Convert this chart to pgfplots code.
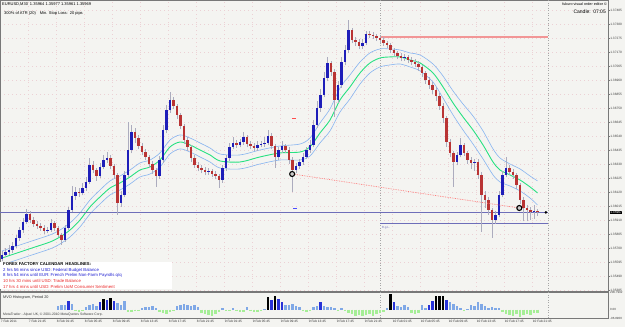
\documentclass[border=0pt]{standalone}
\usepackage{fontspec}
\setmainfont{Liberation Sans}
\usepackage{pgfplots}
\usepackage{pgfplotstable}
\pgfplotsset{compat=1.18}

\definecolor{bg}{RGB}{244,244,241}
\definecolor{upc}{RGB}{30,30,185}
\definecolor{dnc}{RGB}{185,52,52}
\definecolor{wick}{RGB}{172,172,190}
\definecolor{midc}{RGB}{40,225,130}
\definecolor{bandc}{RGB}{135,180,240}
\definecolor{hlblue}{RGB}{110,110,185}
\definecolor{hlred}{RGB}{242,150,150}
\definecolor{hlight}{RGB}{128,168,230}
\definecolor{hdark}{RGB}{40,50,215}
\definecolor{hgreen}{RGB}{165,238,150}
\definecolor{gridc}{RGB}{236,208,212}
\definecolor{axc}{RGB}{120,120,120}
\definecolor{ffblue}{RGB}{30,30,210}
\definecolor{ffred}{RGB}{235,40,40}

\pgfplotstableread{
i o h l c
0 1.35620 1.35680 1.35600 1.35648
1 1.35648 1.35700 1.35630 1.35670
2 1.35670 1.35720 1.35650 1.35685
3 1.35685 1.35745 1.35665 1.35715
4 1.35715 1.35800 1.35700 1.35775
5 1.35775 1.35860 1.35755 1.35835
6 1.35835 1.35925 1.35815 1.35895
7 1.35895 1.35990 1.35880 1.35955
8 1.35955 1.35975 1.35890 1.35910
9 1.35910 1.35930 1.35860 1.35880
10 1.35880 1.35900 1.35845 1.35865
11 1.35865 1.35885 1.35830 1.35850
12 1.35850 1.35870 1.35805 1.35828
13 1.35828 1.35860 1.35810 1.35835
14 1.35835 1.35915 1.35820 1.35888
15 1.35888 1.35900 1.35830 1.35850
16 1.35850 1.35865 1.35780 1.35798
17 1.35798 1.35815 1.35725 1.35760
18 1.35760 1.35870 1.35745 1.35850
19 1.35850 1.36010 1.35835 1.35985
20 1.35985 1.36165 1.35970 1.36090
21 1.36090 1.36160 1.36060 1.36120
22 1.36120 1.36150 1.36085 1.36113
23 1.36113 1.36185 1.36095 1.36150
24 1.36150 1.36230 1.36130 1.36195
25 1.36195 1.36375 1.36180 1.36323
26 1.36323 1.36350 1.36260 1.36285
27 1.36285 1.36300 1.36205 1.36240
28 1.36240 1.36340 1.36225 1.36308
29 1.36308 1.36400 1.36290 1.36360
30 1.36360 1.36420 1.36335 1.36375
31 1.36375 1.36395 1.36290 1.36315
32 1.36315 1.36330 1.36220 1.36248
33 1.36248 1.36265 1.35948 1.36038
34 1.36038 1.36130 1.36010 1.36098
35 1.36098 1.36280 1.36080 1.36248
36 1.36248 1.36645 1.36230 1.36435
37 1.36435 1.36620 1.36410 1.36570
38 1.36570 1.36600 1.36490 1.36525
39 1.36525 1.36545 1.36440 1.36465
40 1.36465 1.36490 1.36395 1.36420
41 1.36420 1.36440 1.36360 1.36383
42 1.36383 1.36400 1.36300 1.36330
43 1.36330 1.36350 1.36255 1.36285
44 1.36285 1.36300 1.36158 1.36240
45 1.36240 1.36390 1.36220 1.36360
46 1.36360 1.36620 1.36340 1.36585
47 1.36585 1.36770 1.36560 1.36735
48 1.36735 1.36870 1.36715 1.36810
49 1.36810 1.36835 1.36740 1.36765
50 1.36765 1.36780 1.36670 1.36698
51 1.36698 1.36715 1.36590 1.36615
52 1.36615 1.36630 1.36480 1.36510
53 1.36510 1.36530 1.36430 1.36458
54 1.36458 1.36475 1.36345 1.36375
55 1.36375 1.36400 1.36300 1.36323
56 1.36323 1.36345 1.36275 1.36300
57 1.36300 1.36320 1.36260 1.36285
58 1.36285 1.36310 1.36245 1.36270
59 1.36270 1.36300 1.36250 1.36278
60 1.36278 1.36295 1.36230 1.36255
61 1.36255 1.36275 1.36215 1.36240
62 1.36240 1.36255 1.36150 1.36210
63 1.36210 1.36325 1.36190 1.36300
64 1.36300 1.36400 1.36280 1.36375
65 1.36375 1.36485 1.36355 1.36458
66 1.36458 1.36530 1.36440 1.36488
67 1.36488 1.36510 1.36450 1.36473
68 1.36473 1.36520 1.36455 1.36495
69 1.36495 1.36570 1.36475 1.36533
70 1.36533 1.36550 1.36455 1.36480
71 1.36480 1.36500 1.36440 1.36465
72 1.36465 1.36485 1.36425 1.36450
73 1.36450 1.36500 1.36430 1.36473
74 1.36473 1.36505 1.36455 1.36480
75 1.36480 1.36530 1.36460 1.36488
76 1.36488 1.36585 1.36470 1.36540
77 1.36540 1.36560 1.36440 1.36465
78 1.36465 1.36480 1.36300 1.36383
79 1.36383 1.36460 1.36360 1.36435
80 1.36435 1.36500 1.36415 1.36465
81 1.36465 1.36480 1.36410 1.36435
82 1.36435 1.36455 1.36330 1.36360
83 1.36360 1.36380 1.36120 1.36285
84 1.36285 1.36340 1.36260 1.36315
85 1.36315 1.36370 1.36295 1.36345
86 1.36345 1.36410 1.36325 1.36383
87 1.36383 1.36460 1.36365 1.36435
88 1.36435 1.36510 1.36415 1.36473
89 1.36473 1.36660 1.36455 1.36623
90 1.36623 1.36800 1.36600 1.36750
91 1.36750 1.36890 1.36720 1.36848
92 1.36848 1.37020 1.36830 1.36975
93 1.36975 1.37133 1.36950 1.37088
94 1.37088 1.37100 1.36990 1.37020
95 1.37020 1.37040 1.36683 1.36810
96 1.36810 1.36950 1.36790 1.36923
97 1.36923 1.37130 1.36900 1.37095
98 1.37095 1.37220 1.37070 1.37185
99 1.37185 1.37410 1.37160 1.37335
100 1.37335 1.37350 1.37235 1.37260
101 1.37260 1.37285 1.37215 1.37245
102 1.37245 1.37265 1.37190 1.37215
103 1.37215 1.37265 1.37195 1.37238
104 1.37238 1.37330 1.37220 1.37305
105 1.37305 1.37325 1.37275 1.37298
106 1.37298 1.37320 1.37270 1.37290
107 1.37290 1.37305 1.37255 1.37275
108 1.37275 1.37290 1.37235 1.37260
109 1.37260 1.37280 1.37215 1.37238
110 1.37238 1.37255 1.37200 1.37223
111 1.37223 1.37240 1.37160 1.37185
112 1.37185 1.37200 1.37140 1.37163
113 1.37163 1.37180 1.37115 1.37140
114 1.37140 1.37160 1.37100 1.37125
115 1.37125 1.37155 1.37105 1.37133
116 1.37133 1.37150 1.37085 1.37110
117 1.37110 1.37130 1.37070 1.37095
118 1.37095 1.37115 1.37055 1.37080
119 1.37080 1.37100 1.37030 1.37058
120 1.37058 1.37075 1.36985 1.37013
121 1.37013 1.37030 1.36930 1.36960
122 1.36960 1.36985 1.36895 1.36923
123 1.36923 1.36945 1.36855 1.36885
124 1.36885 1.36905 1.36800 1.36840
125 1.36840 1.36860 1.36735 1.36765
126 1.36765 1.36785 1.36640 1.36675
127 1.36675 1.36690 1.36460 1.36495
128 1.36495 1.36520 1.36380 1.36413
129 1.36413 1.36430 1.36158 1.36345
130 1.36345 1.36420 1.36320 1.36398
131 1.36398 1.36525 1.36380 1.36473
132 1.36473 1.36490 1.36390 1.36413
133 1.36413 1.36430 1.36330 1.36360
134 1.36360 1.36380 1.36290 1.36338
135 1.36338 1.36370 1.36280 1.36345
136 1.36345 1.36365 1.36220 1.36248
137 1.36248 1.36270 1.35820 1.36098
138 1.36098 1.36130 1.36000 1.36060
139 1.36060 1.36080 1.35950 1.35985
140 1.35985 1.36000 1.35775 1.35910
141 1.35910 1.35975 1.35880 1.35948
142 1.35948 1.36125 1.35930 1.36098
143 1.36098 1.36280 1.36080 1.36248
144 1.36248 1.36383 1.36230 1.36300
145 1.36300 1.36320 1.36245 1.36270
146 1.36270 1.36290 1.36220 1.36248
147 1.36248 1.36265 1.36145 1.36173
148 1.36173 1.36190 1.36030 1.36060
149 1.36060 1.36080 1.35900 1.36000
150 1.36000 1.36020 1.35900 1.35985
151 1.35985 1.36010 1.35910 1.35970
152 1.35970 1.36020 1.35920 1.35978
153 1.35978 1.35995 1.35940 1.35967
}\candles

\pgfplotstableread{
i m u d
0 1.35625 1.35678 1.35573
8.57 1.35700 1.35753 1.35648
13.71 1.35745 1.35798 1.35693
16.57 1.35783 1.35835 1.35730
19.43 1.35835 1.35888 1.35783
22.29 1.35910 1.35963 1.35858
25.14 1.36008 1.36060 1.35955
28 1.36083 1.36135 1.36030
30.86 1.36150 1.36203 1.36098
33.71 1.36188 1.36240 1.36135
36.57 1.36233 1.36285 1.36180
39.43 1.36285 1.36338 1.36233
42.29 1.36308 1.36360 1.36255
45.14 1.36360 1.36413 1.36308
48 1.36458 1.36510 1.36405
50.86 1.36495 1.36548 1.36443
53.71 1.36473 1.36525 1.36420
56.57 1.36435 1.36488 1.36383
59.43 1.36398 1.36450 1.36345
62.29 1.36353 1.36405 1.36300
68 1.36345 1.36398 1.36293
73.71 1.36383 1.36435 1.36330
79.43 1.36413 1.36465 1.36360
85.14 1.36420 1.36480 1.36360
88 1.36458 1.36525 1.36390
90.86 1.36563 1.36638 1.36488
93.71 1.36660 1.36743 1.36578
96.57 1.36810 1.36900 1.36720
99.43 1.36908 1.36998 1.36818
102.29 1.37013 1.37095 1.36930
105.14 1.37088 1.37163 1.37013
108 1.37125 1.37193 1.37058
110.86 1.37133 1.37193 1.37073
113.71 1.37133 1.37185 1.37080
116.57 1.37110 1.37163 1.37058
119.43 1.37088 1.37148 1.37028
123.14 1.37013 1.37080 1.36945
126 1.36908 1.36990 1.36825
128.86 1.36788 1.36878 1.36698
131.71 1.36683 1.36780 1.36585
134.57 1.36585 1.36690 1.36480
137.43 1.36473 1.36578 1.36368
140.29 1.36345 1.36443 1.36248
142.29 1.36285 1.36375 1.36195
145.14 1.36248 1.36330 1.36165
148 1.36210 1.36293 1.36128
150.86 1.36158 1.36240 1.36075
153 1.36113 1.36203 1.36023
}\bands

\pgfplotstableread{
i v t
16 40 1
17 60 1
18 55 1
19 105 2
20 70 1
21 -20 0
22 -25 0
23 -15 0
24 35 1
25 50 1
26 70 1
27 40 1
28 90 2
29 130 3
30 115 2
31 135 3
32 100 2
33 80 1
34 60 1
35 105 1
36 -25 0
37 -30 0
38 -20 0
39 -15 0
40 25 1
41 35 1
42 30 1
43 40 1
44 20 1
45 -25 0
46 -40 0
47 -45 0
48 -30 0
49 -20 0
50 40 1
51 55 1
52 70 1
53 50 1
54 45 1
55 60 1
56 35 1
57 -35 0
58 -50 0
59 -60 0
60 -70 0
61 -45 0
62 -30 0
63 15 1
64 -20 0
65 -15 0
66 20 1
67 -10 0
68 -30 0
69 -25 0
70 30 1
71 -20 0
72 -30 0
73 -25 0
74 -15 0
75 10 1
76 150 3
77 110 2
78 155 3
79 120 2
80 90 2
81 60 1
82 50 1
83 70 1
84 40 1
85 35 1
86 -20 0
87 -25 0
88 -15 0
89 35 1
90 40 1
91 95 2
92 45 1
93 35 1
94 30 1
95 15 1
96 -10 0
97 20 1
98 -15 0
99 -40 0
100 -55 0
101 -70 0
102 -65 0
103 -75 0
104 -60 0
105 -50 0
106 -70 0
107 -55 0
108 -40 0
109 -30 0
110 20 1
111 180 3
112 95 2
113 45 1
114 35 1
115 55 1
116 30 1
117 -40 0
118 -50 0
119 -35 0
120 50 1
121 20 1
122 60 2
123 100 2
124 165 3
125 160 3
126 165 3
127 110 2
128 95 1
129 70 1
130 40 1
131 15 1
132 -10 0
133 10 1
134 60 1
135 40 1
136 85 1
137 70 1
138 40 1
139 25 1
140 30 1
141 20 1
142 15 1
143 -30 0
144 -45 0
145 -60 0
146 -70 0
147 -55 0
148 -80 0
149 -60 0
150 -50 0
151 -65 0
152 -40 0
153 -35 0
}\hist

\newcommand{\tinyf}{\fontsize{3.2}{3.8}\selectfont}

\begin{document}
\begin{tikzpicture}[x=1pt,y=1pt]
\fill[bg] (0,0) rectangle (625,327);

% ---------------- main price panel ----------------
\begin{axis}[
  at={(0pt,36pt)}, anchor=south west, scale only axis,
  width=608pt, height=291pt,
  xmin=-0.571, xmax=173.14, ymin=1.353775, ymax=1.3756,
  axis line style={axc, line width=0.6pt},
  xtick={-0.5,7.5,...,151.5}, xticklabels={}, xtick style={draw=none},
  ytick={1.37485,1.3738,1.37275,1.3717,1.37065,1.3696,1.36855,1.3675,1.36645,1.3654,1.36435,1.3633,1.36225,1.3612,1.36015,1.3591,1.35805,1.357,1.35595,1.3549,1.35385},
  yticklabels={1.37485,1.37380,1.37275,1.37170,1.37065,1.36960,1.36855,1.36750,1.36645,1.36540,1.36435,1.36330,1.36225,1.36120,1.36015,1.35910,1.35805,1.35700,1.35595,1.35490,1.35385},
  ytick pos=right, yticklabel pos=right,
  tick align=outside, major tick length=1.6pt, ytick style={axc, line width=0.4pt},
  yticklabel style={font=\tinyf, color=black!75, inner sep=0.5pt},
  xmajorgrids, ymajorgrids,
  grid style={gridc, line width=0.5pt, dash pattern=on 0.5pt off 3.5pt},
  clip mode=individual,
]
\addplot[gray!70, dotted, line width=0.5pt, forget plot] coordinates {(108,1.353775) (108,1.3756)};
\addplot[gray!70, dotted, line width=0.5pt, forget plot] coordinates {(156,1.353775) (156,1.3756)};
\addplot[bandc, line width=0.6pt, smooth, forget plot] table[x=i,y=u] {\bands};
\addplot[bandc, line width=0.6pt, smooth, forget plot] table[x=i,y=d] {\bands};
\addplot[midc, line width=0.9pt, smooth, forget plot] table[x=i,y=m] {\bands};
\addplot[hlblue, line width=0.7pt, forget plot] coordinates {(-0.571,1.3597) (156,1.3597)};
\addplot[hlblue, line width=0.7pt, forget plot] coordinates {(108,1.358875) (156,1.358875)};
\addplot[hlred, line width=1.5pt, forget plot] coordinates {(108,1.372825) (156,1.372825)};
% wicks
\addplot[draw=none, mark=none, forget plot,
  error bars/.cd, y dir=plus, y explicit, error mark=none,
  error bar style={line width=0.7pt, draw=wick, solid}]
  table[x=i, y=l, y error plus expr=\thisrow{h}-\thisrow{l}, y error minus expr=0] {\candles};
% up bodies
\addplot[draw=none, mark=none, forget plot,
  restrict expr to domain={\thisrow{c}-\thisrow{o}}{0:1},
  error bars/.cd, y dir=plus, y explicit, error mark=none,
  error bar style={line width=2.3pt, draw=upc, solid}]
  table[x=i, y=o, y error plus expr=\thisrow{c}-\thisrow{o}, y error minus expr=0] {\candles};
% down bodies
\addplot[draw=none, mark=none, forget plot,
  restrict expr to domain={\thisrow{o}-\thisrow{c}}{0.000001:1},
  error bars/.cd, y dir=plus, y explicit, error mark=none,
  error bar style={line width=2.3pt, draw=dnc, solid}]
  table[x=i, y=c, y error plus expr=\thisrow{o}-\thisrow{c}, y error minus expr=0] {\candles};
\addplot[red!55, densely dotted, line width=0.7pt, forget plot] coordinates {(82.9,1.36255) (147.8,1.36000)};
\addplot[only marks, mark=*, mark size=2.5pt, mark options={fill=gray!40, draw=black, line width=1.1pt}, forget plot] coordinates {(82.9,1.36255) (147.8,1.36000)};
\addplot[only marks, mark=-, mark size=1.6pt, mark options={draw=red!70, line width=0.8pt}, forget plot] coordinates {(83.4,1.36675)};
\addplot[only marks, mark=-, mark size=1.6pt, mark options={draw=blue!70, line width=0.8pt}, forget plot] coordinates {(83.7,1.35998)};
\addplot[only marks, mark=*, mark size=1.1pt, mark options={fill=black, draw=black}, forget plot] coordinates {(155.4,1.35967)};
\node[anchor=north west, font=\fontsize{3}{3.5}\selectfont, text=hlblue, inner sep=0.5pt] at (axis cs:108.3,1.35870) {R.g.L.};
\node[anchor=west, fill=black, text=white, font=\tinyf, inner sep=0.5pt] at (axis cs:173.6,1.35967) {1.35967};
\end{axis}

\fill[axc] (0,35) rectangle (608,36.3);

% ---------------- indicator panel ----------------
\begin{axis}[
  at={(0pt,9pt)}, anchor=south west, scale only axis,
  width=608pt, height=26pt,
  xmin=-0.571, xmax=173.14, ymin=-96.89, ymax=206.7902,
  axis line style={axc, line width=0.6pt},
  ytick={-96.89,0,206.7902}, yticklabels={-96.8900,0.00,206.7902},
  ytick pos=right, yticklabel pos=right,
  xtick={-0.5,7.5,...,151.5},
  xticklabels={7 Feb 2011,7 Feb 21:45,8 Feb 01:45,8 Feb 05:45,8 Feb 09:45,8 Feb 13:45,8 Feb 17:45,8 Feb 21:45,9 Feb 01:45,9 Feb 05:45,9 Feb 09:45,9 Feb 13:45,9 Feb 17:45,9 Feb 21:45,10 Feb 01:45,10 Feb 05:45,10 Feb 09:45,10 Feb 13:45,10 Feb 17:45,10 Feb 21:45},
  xtick pos=bottom,
  tick align=outside, major tick length=1.4pt, tick style={axc, line width=0.4pt},
  xticklabel style={font=\tinyf, anchor=north west, inner sep=0.4pt, color=black!80},
  yticklabel style={font=\fontsize{3}{3.5}\selectfont, color=black!75, inner sep=0.5pt},
  clip mode=individual,
]
\addplot[gray!70, dotted, line width=0.5pt, forget plot] coordinates {(108,-96.89) (108,206.79)};
\addplot[gray!70, dotted, line width=0.5pt, forget plot] coordinates {(156,-96.89) (156,206.79)};
\addplot[ycomb, hgreen, line width=2.1pt, forget plot, restrict expr to domain={\thisrow{t}}{-0.5:0.5}] table[x=i,y=v] {\hist};
\addplot[ycomb, hlight, line width=2.1pt, forget plot, restrict expr to domain={\thisrow{t}}{0.5:1.5}] table[x=i,y=v] {\hist};
\addplot[ycomb, hdark, line width=2.1pt, forget plot, restrict expr to domain={\thisrow{t}}{1.5:2.5}] table[x=i,y=v] {\hist};
\addplot[ycomb, black, line width=2.1pt, forget plot, restrict expr to domain={\thisrow{t}}{2.5:3.5}] table[x=i,y=v] {\hist};
\end{axis}

% ---------------- texts ----------------
\node[anchor=west, inner sep=0, font=\fontsize{4}{4.5}\selectfont] at (2,323) {EURUSD,M30\enspace 1.35964 1.35977 1.35961 1.35969};
\node[anchor=west, inner sep=0, font=\fontsize{4}{4.5}\selectfont] at (4,313.5) {300\% of ATR (20)\quad Min. Stop Loss:\enspace 20 pips};
\node[anchor=east, inner sep=0, font=\fontsize{3.7}{4.2}\selectfont] at (607,322.5) {fukuro visual order editor ©};
\node[anchor=east, inner sep=0, font=\fontsize{5}{5.5}\selectfont] at (606,315.3) {Candle:\enspace 07:05};

\fill[white] (0,38) rectangle (172,65);
\node[anchor=west, inner sep=0, font=\bfseries\fontsize{4.2}{4.6}\selectfont] at (3,62.7) {FOREX FACTORY CALENDAR\enspace HEADLINES:};
\node[anchor=west, inner sep=0, text=ffblue, font=\fontsize{4.3}{4.6}\selectfont] at (3,56.3) {2 hrs 56 mins since USD: Federal Budget Balance};
\node[anchor=west, inner sep=0, text=ffblue, font=\fontsize{4.3}{4.6}\selectfont] at (3,51.3) {8 hrs 54 mins until EUR: French Prelim Non-Farm Payrolls q/q};
\node[anchor=west, inner sep=0, text=ffred, font=\fontsize{4.3}{4.6}\selectfont] at (3,45.7) {10 hrs 30 mins until USD: Trade Balance};
\node[anchor=west, inner sep=0, text=ffred, font=\fontsize{4.3}{4.6}\selectfont] at (3,40.3) {17 hrs 4 mins until USD: Prelim UoM Consumer Sentiment};

\node[anchor=west, inner sep=0, font=\fontsize{3.8}{4.2}\selectfont, text=black!80] at (3,29) {MVO Histogram, Period 20};
\node[anchor=west, inner sep=0, font=\fontsize{3.4}{4}\selectfont, text=black!75] at (3,12.3) {MetaTrader - Alpari UK, © 2001-2010 MetaQuotes Software Corp.};

\pgfresetboundingbox
\useasboundingbox (0,0) rectangle (625,327);
\end{tikzpicture}
\end{document}
